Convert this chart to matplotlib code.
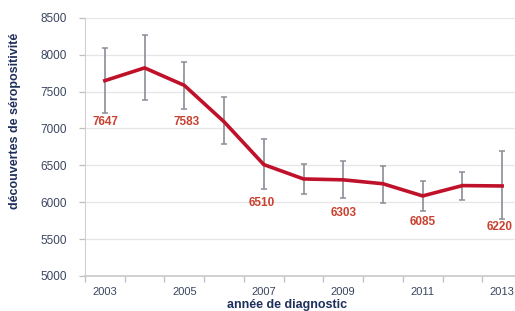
import matplotlib
matplotlib.use("Agg")
import matplotlib.pyplot as plt

years = [2003, 2004, 2005, 2006, 2007, 2008, 2009, 2010, 2011, 2012, 2013]
values = [7647, 7820, 7583, 7090, 6510, 6315, 6303, 6250, 6085, 6225, 6220]
err_low = [7205, 7385, 7263, 6784, 6175, 6111, 6053, 5993, 5885, 6030, 5768]
err_high = [8085, 8270, 7904, 7421, 6856, 6518, 6562, 6495, 6287, 6409, 6690]
labeled_years = [2003, 2005, 2007, 2009, 2011, 2013]
label_offsets_px = [(1, 41), (2, 37), (-2, 38), (0, 33), (0, 26), (-3, 41)]
yticks = [5000, 5500, 6000, 6500, 7000, 7500, 8000, 8500]
tick_years = [2003, 2005, 2007, 2009, 2011, 2013]

plt.rcParams['font.family'] = ['Liberation Sans', 'DejaVu Sans']

fig = plt.figure(figsize=(5.15, 3.11), dpi=100)
W, H = 515, 311
ax = fig.add_axes([85 / W, (H - 276) / H, 437 / W, (276 - 17.7) / H])

x = list(range(len(years)))
lo = [v - l for v, l in zip(values, err_low)]
hi = [h - v for v, h in zip(values, err_high)]

ax.errorbar(x, values, yerr=[lo, hi], fmt='none', ecolor='#8a8e96',
            elinewidth=1.2, capsize=2.5, capthick=1.1, zorder=2)
ax.plot(x, values, color='#c0112a', lw=2.6, zorder=3, solid_joinstyle='miter')

for yr, (dx, off) in zip(labeled_years, label_offsets_px):
    i = years.index(yr)
    ax.annotate(str(values[i]), (x[i], values[i]), xytext=(dx, -off),
                textcoords='offset pixels', ha='center', va='center',
                color='#c9412f', fontsize=8.5, fontweight='bold', zorder=4)

ax.set_xlim(-0.5, len(years) - 0.5)
ax.set_ylim(5000, 8500)
ax.set_yticks(yticks)
ax.set_yticklabels([str(t) for t in yticks])
ax.yaxis.grid(True, color='#e6e6e6', lw=0.9)
ax.set_axisbelow(True)

# tick marks at category boundaries, labels at every other year
bounds = [i - 0.5 for i in range(len(years) + 1)]
ax.set_xticks(bounds)
ax.set_xticklabels([])
ax.tick_params(axis='x', which='major', length=4, color='#bfbfbf', width=0.9)
ax.set_xticks([years.index(t) for t in tick_years], minor=True)
ax.set_xticklabels([str(t) for t in tick_years], minor=True)
ax.tick_params(axis='x', which='minor', length=0, pad=8, labelsize=8,
               labelcolor='#3a4560')
ax.tick_params(axis='y', length=4, color='#bfbfbf', width=0.9, labelsize=8.5,
               labelcolor='#3a4560', pad=9)

for s in ['top', 'right']:
    ax.spines[s].set_visible(False)
ax.spines['left'].set_color('#d0d0d0')
ax.spines['bottom'].set_color('#c8c8c8')
ax.spines['bottom'].set_linewidth(1.2)

fig.text(287 / W, 1 - 305 / H, 'année de diagnostic', ha='center', va='center',
         fontsize=9, fontweight='bold', color='#1f2f5c')
fig.text(15 / W, 1 - 121 / H, 'découvertes de séropositivité', ha='center',
         va='center', rotation=90, fontsize=9, fontweight='bold', color='#1f2f5c')

fig.savefig('out.png', dpi=100)
